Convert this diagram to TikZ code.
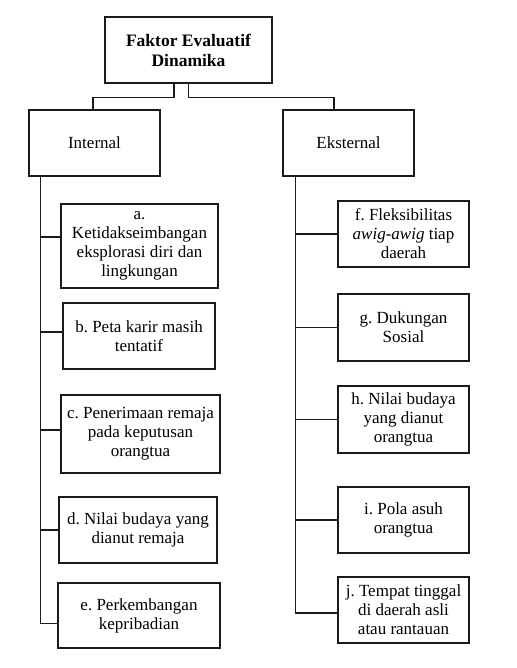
\documentclass[tikz,border=0pt]{standalone}
\usepackage{fontspec}
\setmainfont{Liberation Serif}
\frenchspacing
\usetikzlibrary{positioning, calc}
\definecolor{cline}{HTML}{1A1A1A}
\tikzset{
  every picture/.style={line width=1.3pt},
  box/.style={draw=cline, fill=white, align=center, inner sep=0pt, font=\fontsize{17}{19}\selectfont},
  head/.style={box, font=\fontsize{17.5}{20}\selectfont\bfseries},
  link/.style={draw=cline, line width=1.3pt},
}

\begin{document}
\begin{tikzpicture}[x=1pt, y=-1pt]
  \useasboundingbox (0,0) rectangle (516,668);

  % top
  \node[head, minimum width=167pt, minimum height=66pt] (top) at (188.5,50) {Faktor Evaluatif\\Dinamika};
  \node[box, minimum width=131pt, minimum height=66pt] (int) at (94.5,143) {Internal};
  \node[box, minimum width=131pt, minimum height=66pt] (ext) at (348.5,143) {Eksternal};

  % internal
  \node[box, minimum width=157pt, minimum height=84pt] (a) at (139.5,246) {a.\\Ketidakseimbangan\\eksplorasi diri dan\\lingkungan};
  \node[box, minimum width=152pt, minimum height=66pt] (b) at (139,336) {b. Peta karir masih\\tentatif};
  \node[box, minimum width=159pt, minimum height=78pt] (c) at (140.5,434) {c. Penerimaan remaja\\pada keputusan\\orangtua};
  \node[box, minimum width=158pt, minimum height=66pt] (d) at (138,530) {d. Nilai budaya yang\\dianut remaja};
  \node[box, minimum width=162pt, minimum height=65pt] (e) at (139,615.5) {e. Perkembangan\\kepribadian};

  % eksternal
  \node[box, minimum width=131pt, minimum height=66pt] (f) at (403.5,234) {f. Fleksibilitas\\\textit{awig-awig} tiap\\daerah};
  \node[box, minimum width=131pt, minimum height=67pt] (g) at (403.5,327.5) {g. Dukungan\\Sosial};
  \node[box, minimum width=131pt, minimum height=67pt] (h) at (403.5,419.5) {h. Nilai budaya\\yang dianut\\orangtua};
  \node[box, minimum width=131pt, minimum height=66pt] (i) at (403.5,520) {i. Pola asuh\\orangtua};
  \node[box, minimum width=131pt, minimum height=66pt] (j) at (403.5,610) {j. Tempat tinggal\\di daerah asli\\atau rantauan};

  % links
  \draw[link] ([xshift=-14.5pt]top.south) -- ++(0,14) -| ([xshift=-1.5pt]int.north);
  \draw[link] (top.south) -- ++(0,14) -| ([xshift=-14.5pt]ext.north);

  \coordinate (li) at ([xshift=12pt]int.south west);
  \coordinate (ri) at ([xshift=13pt]ext.south west);
  \draw[link] (li) |- ([yshift=-8pt]e.west);
  \draw[link] ([yshift=9pt]a.west) -- ([yshift=9pt]a.west -| li);
  \draw[link] ([yshift=4pt]b.west) -- ([yshift=4pt]b.west -| li);
  \draw[link] ([yshift=4pt]c.west) -- ([yshift=4pt]c.west -| li);
  \draw[link] (d.west) -- (d.west -| li);

  \draw[link] (ri) |- ([yshift=-3pt]j.west);
  \foreach \n in {f, g, h, i}
    \draw[link] (\n.west) -- (\n.west -| ri);
\end{tikzpicture}
\end{document}
